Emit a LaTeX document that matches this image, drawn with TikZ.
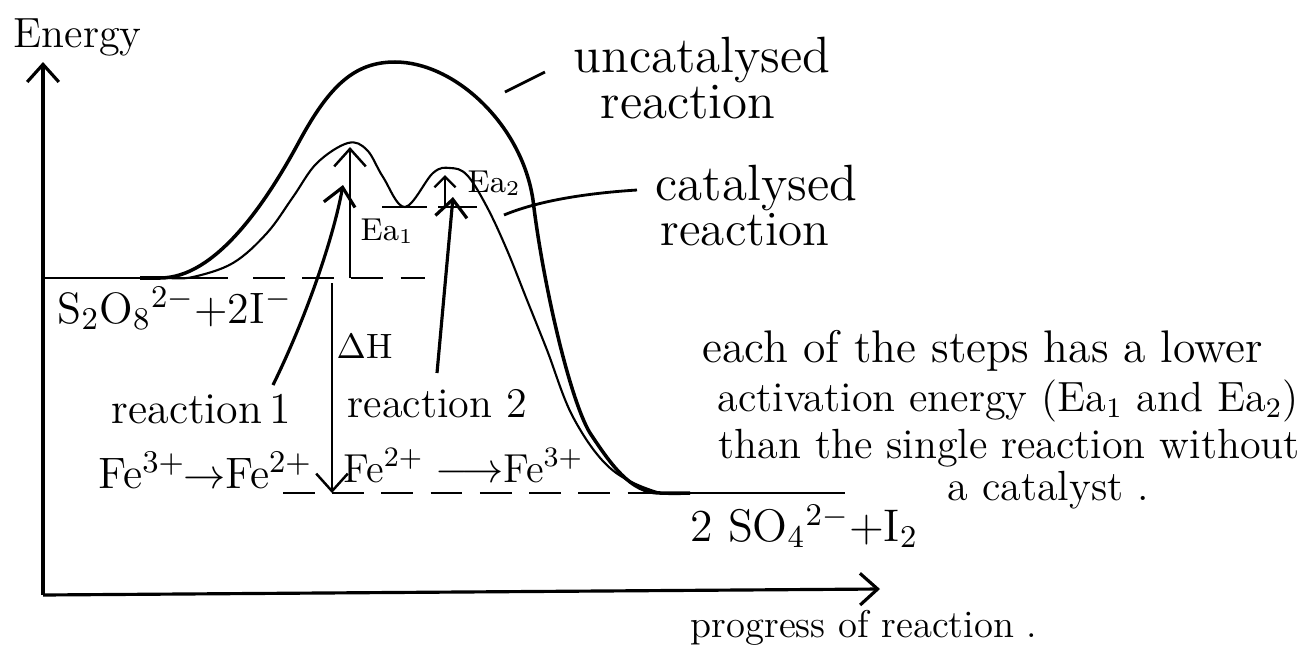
\documentclass[tikz,border=0pt]{standalone}
\usepackage{fontspec}
\usetikzlibrary{arrows.meta}
\begin{document}
\begin{tikzpicture}[x=0.01cm,y=-0.01cm,>={Straight Barb[length=5pt,width=9pt]},
    txt/.style={font=\fontsize{#1}{#1}\selectfont,inner sep=0pt,anchor=base west},
    dashlevel/.style={line width=0.8pt,dash pattern=on 9pt off 5pt}]
    \useasboundingbox (0,0) rectangle (1314,657);
    % axes
    \coordinate (origin) at (43,595);
    \coordinate (ytop) at (43,62);
    \coordinate (xend) at (880,589);
    \draw[->,line width=0.9pt] (origin) -- (ytop);
    \draw[->,line width=0.9pt] (origin) -- (xend);
    \node[txt=12] (energy) at (13,47) {Energy};
    \node[txt=11] (progress) at (690,637) {progress of reaction .};
    % energy levels
    \draw[line width=0.8pt] (43,278) -- (228,278);
    \draw[dashlevel] (253,278) -- (425,278);
    \draw[line width=0.8pt] (382,207) -- (427,207);
    \draw[line width=0.8pt] (438,207) -- (477,207);
    \draw[dashlevel] (283,493) -- (655,493);
    \draw[line width=0.8pt] (655,493) -- (845,493);
    % uncatalysed reaction
    \draw[line width=1pt] (140,278) -- (160,278) .. controls (215,278) and (265,205) .. (300,140)
      .. controls (330,85) and (355,62) .. (395,62) .. controls (455,62) and (522,125) .. (533,200)
      .. controls (543,284) and (570,400) .. (590,433) .. controls (610,463) and (630,493) .. (660,493)
      -- (690,493);
    % catalysed reaction
    \draw[line width=0.6pt] plot[smooth,tension=0.6] coordinates {(170,278) (193,277)
      (233,263) (267,233) (293,197) (317,163) (348,143) (367,150) (383,177) (405,207)
      (433,173) (450,168) (467,175) (487,207) (507,250) (527,300) (547,350) (573,417)
      (610,468) (657,492) (690,493)};
    % activation energies and enthalpy change
    \coordinate (ea1base) at (350,278);
    \coordinate (ea1top) at (350,147);
    \draw[->,line width=0.7pt] (ea1base) -- (ea1top);
    \node[txt=9] (ea1) at (360,240) {Ea$_1$};
    \coordinate (ea2base) at (445,207);
    \coordinate (ea2top) at (445,175);
    \draw[-{Straight Barb[length=3pt,width=6pt]},line width=0.7pt] (ea2base) -- (ea2top);
    \node[txt=9] (ea2) at (467,192) {Ea$_2$};
    \coordinate (dhtop) at (332,283);
    \coordinate (dhbase) at (332,493);
    \draw[->,line width=0.7pt] (dhtop) -- (dhbase);
    \node[txt=10] (dh) at (336,358) {$\Delta$H};
    % reactants and products
    \node[txt=12.5] (reactants) at (57,323) {S$_2$O$_8{}^{2-}$+2I$^-$};
    \node[txt=13] (products) at (690,541) {2 SO$_4{}^{2-}$+I$_2$};
    % the two steps
    \node[txt=12.5] (r1) at (111,423) {reaction\,1};
    \node[txt=12.5] (r1eq) at (98,488) {Fe$^{3+}\!\!\to$Fe$^{2+}$};
    \node[txt=12] (r2) at (347,417) {reaction 2};
    \node[txt=11.5] (r2eq) at (343,482) {Fe$^{2+}\longrightarrow$Fe$^{3+}$};
    \coordinate (r1tail) at (273,385);
    \coordinate (r1head) at (343,185);
    \draw[->,line width=0.9pt] (r1tail) .. controls (305,320) and (333,240) .. (r1head);
    \coordinate (r2tail) at (437,373);
    \coordinate (r2head) at (453,197);
    \draw[->,line width=0.9pt] (r2tail) -- (r2head);
    % curve labels
    \node[txt=14.5] (uncat1) at (573,72) {uncatalysed};
    \node[txt=14.5] (uncat2) at (600,118) {reaction};
    \coordinate (uncatpt) at (505,92);
    \coordinate (uncatend) at (545,72);
    \draw[line width=0.8pt] (uncatpt) -- (uncatend);
    \node[txt=14.5] (cat1) at (655,200) {catalysed};
    \node[txt=14] (cat2) at (660,245) {reaction};
    \coordinate (catpt) at (504,215);
    \coordinate (catend) at (637,190);
    \draw[line width=0.8pt] (catpt) .. controls (540,200) and (590,193) .. (catend);
    % comment on the steps
    \node[txt=13] (note1) at (702,362) {each of the steps has a lower};
    \node[txt=12] (note2) at (717,411) {activation energy (Ea$_1$ and Ea$_2$)};
    \node[txt=12] (note3) at (718,458) {than the single reaction without};
    \node[txt=12] (note4) at (947,500) {a catalyst .};
\end{tikzpicture}
\end{document}
